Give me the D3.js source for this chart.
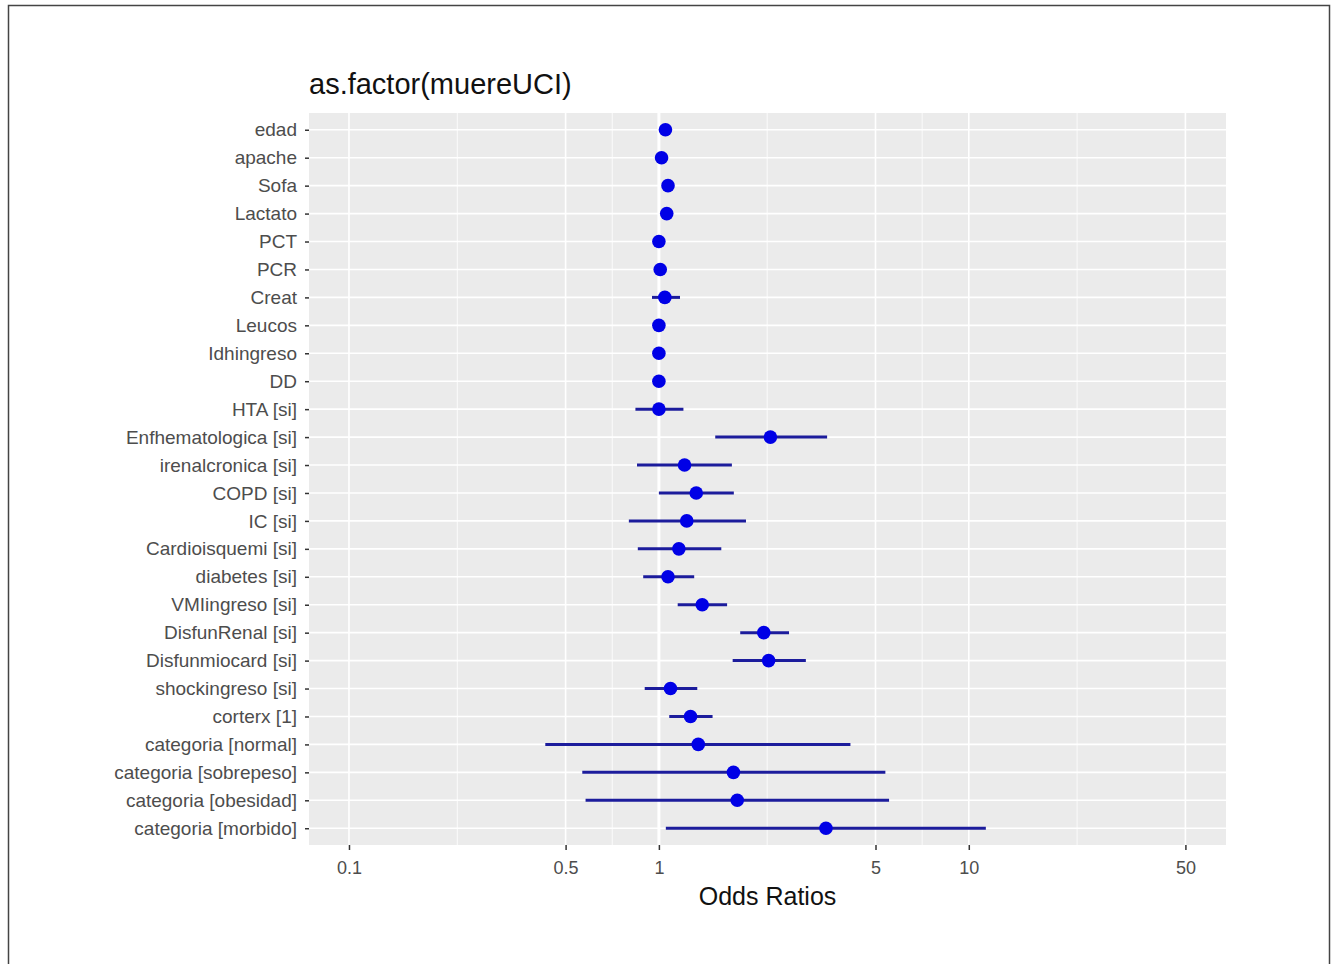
<!DOCTYPE html>
<html>
<head>
<meta charset="utf-8">
<script src="https://cdn.jsdelivr.net/npm/d3@7"></script>
<style>
  body { margin: 0; background: #fff; }
  text { font-family: "Liberation Sans", Arial, sans-serif; }
</style>
</head>
<body>
<script>
// terms, odds ratios and 95% CI
var terms = ["edad", "apache", "Sofa", "Lactato", "PCT", "PCR", "Creat", "Leucos",
  "Idhingreso", "DD", "HTA [si]", "Enfhematologica [si]", "irenalcronica [si]",
  "COPD [si]", "IC [si]", "Cardioisquemi [si]", "diabetes [si]", "VMIingreso [si]",
  "DisfunRenal [si]", "Disfunmiocard [si]", "shockingreso [si]", "corterx [1]",
  "categoria [normal]", "categoria [sobrepeso]", "categoria [obesidad]", "categoria [morbido]"];
var oddsRatio = [1.05, 1.02, 1.07, 1.06, 1.0, 1.01, 1.045, 1.0, 1.0, 1.0, 1.0, 2.29, 1.21,
  1.32, 1.23, 1.16, 1.07, 1.38, 2.18, 2.26, 1.09, 1.265, 1.34, 1.74, 1.79, 3.46];
var ciLow = [1.03, 1.01, 1.05, 1.04, 0.99, 1.0, 0.95, 0.99, 0.99, 0.99, 0.84, 1.52, 0.85,
  1.0, 0.80, 0.855, 0.89, 1.15, 1.83, 1.73, 0.90, 1.08, 0.43, 0.566, 0.58, 1.053];
var ciHigh = [1.07, 1.03, 1.09, 1.08, 1.01, 1.02, 1.17, 1.01, 1.01, 1.01, 1.2, 3.49, 1.72,
  1.745, 1.91, 1.59, 1.3, 1.66, 2.63, 2.98, 1.33, 1.49, 4.15, 5.38, 5.53, 11.35];
var xTicks = [0.1, 0.5, 1, 5, 10, 50];
var xMinor = [0.2236, 0.7071, 2.236, 7.071, 22.36];

var svg = d3.select("body").append("svg")
    .attr("width", 1331)
    .attr("height", 964);

// outer frame of the figure
svg.append("rect")
    .attr("x", 8.5).attr("y", 5.5)
    .attr("width", 1321).attr("height", 1000)
    .attr("fill", "none").attr("stroke", "#444").attr("stroke-width", 1.5);

var panel = {left: 309, right: 1226, top: 113, bottom: 845};

var x = d3.scaleLog().domain([0.0743, 67.6]).range([panel.left, panel.right]);
var y = d3.scalePoint().domain(terms).range([panel.top, panel.bottom]).padding(0.6);

var data = terms.map(function(t, i) {
  return {term: t, or: oddsRatio[i], lo: ciLow[i], hi: ciHigh[i]};
});

svg.append("rect")
    .attr("x", panel.left).attr("y", panel.top)
    .attr("width", panel.right - panel.left).attr("height", panel.bottom - panel.top)
    .attr("fill", "#ebebeb");

// grid
svg.append("g").selectAll("line").data(xMinor).enter().append("line")
    .attr("x1", function(d) { return x(d); }).attr("x2", function(d) { return x(d); })
    .attr("y1", panel.top).attr("y2", panel.bottom)
    .attr("stroke", "#fff").attr("stroke-width", 0.8);
svg.append("g").selectAll("line").data(xTicks).enter().append("line")
    .attr("x1", function(d) { return x(d); }).attr("x2", function(d) { return x(d); })
    .attr("y1", panel.top).attr("y2", panel.bottom)
    .attr("stroke", "#fff").attr("stroke-width", 1.6);
svg.append("g").selectAll("line").data(terms).enter().append("line")
    .attr("x1", panel.left).attr("x2", panel.right)
    .attr("y1", function(d) { return y(d); }).attr("y2", function(d) { return y(d); })
    .attr("stroke", "#fff").attr("stroke-width", 1.6);

// reference line at OR = 1
svg.append("line")
    .attr("x1", x(1)).attr("x2", x(1))
    .attr("y1", panel.top).attr("y2", panel.bottom)
    .attr("stroke", "#fff").attr("stroke-width", 3);

// error bars and points
var g = svg.append("g");
g.selectAll(".ci").data(data).enter().append("line")
    .attr("class", "ci")
    .attr("x1", function(d) { return x(d.lo); })
    .attr("x2", function(d) { return x(d.hi); })
    .attr("y1", function(d) { return y(d.term); })
    .attr("y2", function(d) { return y(d.term); })
    .attr("stroke", "#1c1c9c").attr("stroke-width", 3);
g.selectAll(".pt").data(data).enter().append("circle")
    .attr("class", "pt")
    .attr("cx", function(d) { return x(d.or); })
    .attr("cy", function(d) { return y(d.term); })
    .attr("r", 6.8)
    .attr("fill", "#0000e6");

// axes
var xAxis = svg.append("g")
    .attr("transform", "translate(0," + panel.bottom + ")")
    .call(d3.axisBottom(x).tickValues(xTicks).tickSize(5).tickPadding(11)
      .tickFormat(function(d) { return String(d); }));
xAxis.select(".domain").remove();
xAxis.selectAll("line").attr("stroke", "#333").attr("stroke-width", 1.5);
xAxis.selectAll("text").attr("fill", "#4d4d4d").style("font-size", "18px");

var yAxis = svg.append("g")
    .attr("transform", "translate(" + panel.left + ",0)")
    .call(d3.axisLeft(y).tickSize(4).tickPadding(8));
yAxis.select(".domain").remove();
yAxis.selectAll("line").attr("stroke", "#333").attr("stroke-width", 1.5);
yAxis.selectAll("text").attr("fill", "#4d4d4d").style("font-size", "19px");

// titles
svg.append("text")
    .attr("x", panel.left).attr("y", 94)
    .style("font-size", "29px").attr("fill", "#111")
    .text("as.factor(muereUCI)");
svg.append("text")
    .attr("x", (panel.left + panel.right) / 2).attr("y", 905)
    .attr("text-anchor", "middle")
    .style("font-size", "25px").attr("fill", "#111")
    .text("Odds Ratios");
</script>
</body>
</html>
